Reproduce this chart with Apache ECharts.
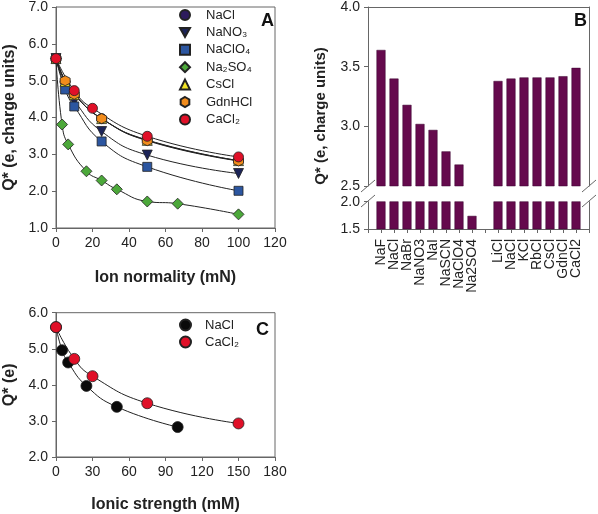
<!DOCTYPE html>
<html><head><meta charset="utf-8">
<script src="https://cdn.jsdelivr.net/npm/echarts@6/dist/echarts.min.js"></script>
<style>html,body{margin:0;padding:0;background:#fff}#c{width:598px;height:514px}</style>
</head><body><div id="c"></div>
<script>
// ---- Panel A: Q* vs ion normality ----
const nacl_x = [0, 5, 10, 25, 50, 100];
const nacl_y = [5.6, 4.97, 4.62, 3.97, 3.39, 2.83];
const nano3_x = [0, 5, 10, 25, 50, 100];
const nano3_y = [5.6, 4.85, 4.45, 3.62, 2.98, 2.48];
const naclo4_x = [0, 5, 10, 25, 50, 100];
const naclo4_y = [5.6, 4.76, 4.30, 3.35, 2.66, 2.01];
const na2so4_x = [0, 3.33, 6.67, 16.67, 25, 33.33, 50, 66.67, 100];
const na2so4_y = [5.6, 3.81, 3.27, 2.54, 2.29, 2.05, 1.72, 1.66, 1.37];
const cscl_x = [0, 5, 10, 25, 50, 100];
const cscl_y = [5.6, 4.98, 4.62, 3.97, 3.38, 2.83];
const gdnhcl_x = [0, 5, 10, 25, 50, 100];
const gdnhcl_y = [5.6, 5.0, 4.63, 3.97, 3.37, 2.82];
const cacl2_x = [0, 10, 20, 50, 100];
const cacl2_y = [5.6, 4.73, 4.25, 3.49, 2.93];

// ---- Panel B: Q* by salt ----
const saltLabels = ['', 'NaF', 'NaCl', 'NaBr', 'NaNO3', 'NaI', 'NaSCN', 'NaClO4', 'Na2SO4', '',
                    'LiCl', 'NaCl', 'KCl', 'RbCl', 'CsCl', 'GdnCl', 'CaCl2', ''];
const saltQ = ['-', 3.64, 3.40, 3.18, 3.02, 2.97, 2.79, 2.68, 1.74, '-',
               3.38, 3.40, 3.41, 3.41, 3.41, 3.42, 3.49, '-'];

// ---- Panel C: Q* vs ionic strength ----
const c_nacl_x = [0, 5, 10, 25, 50, 100];
const c_nacl_y = [5.6, 4.96, 4.62, 3.97, 3.39, 2.83];
const c_cacl2_x = [0, 15, 30, 75, 150];
const c_cacl2_y = [5.6, 4.72, 4.24, 3.49, 2.93];

const FONT = 'Liberation Sans, Arial, sans-serif';
const AX = '#666';
const TXT = '#222';
const zip = (xs, ys) => xs.map((x, i) => [x, ys[i]]);
const HEX = 'path://M50,0 L93.3,25 L93.3,75 L50,100 L6.7,75 L6.7,25 Z';
const TRI_DOWN = 'path://M0,0 L100,0 L50,90 Z';
const SUB = '₀₁₂₃₄₅₆₇₈₉';

function lineSeries(name, xs, ys, symbol, color, xi, yi, size) {
  return {
    name, type: 'line', xAxisIndex: xi, yAxisIndex: yi, data: zip(xs, ys),
    smooth: 0.5,
    symbol, symbolSize: size || 10,
    lineStyle: { color: '#222', width: 1 },
    itemStyle: { color, borderColor: '#222', borderWidth: 0.8 },
    emphasis: { disabled: true }, animation: false, z: 3
  };
}
const subFmt = n => n.trim().replace(/([A-Za-z])(\d)/g, (m, a, d) => a + SUB[+d]);
const legendText = (pad) => ({ fontSize: 13, fontFamily: FONT, color: TXT, padding: [0, 0, 0, pad], lineHeight: 14 });

const valAxisCommon = (extra) => Object.assign({
  type: 'value',
  axisLine: { show: true, lineStyle: { color: AX, width: 1 } },
  axisTick: { show: true, inside: false, length: 4, lineStyle: { color: AX } },
  splitLine: { show: false },
  axisLabel: { fontSize: 14, fontFamily: FONT, color: TXT },
}, extra);
const nameStyle = { fontSize: 16, fontWeight: 'bold', fontFamily: FONT, color: TXT };
const fmt1 = { fontSize: 14, fontFamily: FONT, color: TXT, formatter: v => v.toFixed(1) };

const chart = echarts.init(document.getElementById('c'), null, { renderer: 'canvas' });
chart.setOption({
  animation: false,
  grid: [
    { left: 56, top: 6, width: 219, height: 222, show: true, borderColor: AX, borderWidth: 1 },  // A
    { left: 56, top: 312.7, width: 219, height: 147.3, show: true, borderColor: AX, borderWidth: 1 }, // C
    { left: 368, top: 6, width: 221, height: 180 }, // B upper
    { left: 368, top: 201.7, width: 221, height: 27.3 } // B lower
  ],
  xAxis: [
    valAxisCommon({ gridIndex: 0, min: 0, max: 120, interval: 20,
      name: 'Ion normality (mN)', nameLocation: 'middle', nameGap: 42, nameTextStyle: nameStyle }),
    valAxisCommon({ gridIndex: 1, min: 0, max: 180, interval: 30,
      name: 'Ionic strength (mM)', nameLocation: 'middle', nameGap: 40, nameTextStyle: nameStyle }),
    { type: 'category', gridIndex: 2, position: 'top', data: saltLabels, boundaryGap: false,
      axisLine: { show: true, lineStyle: { color: AX } }, axisTick: { show: false }, axisLabel: { show: false } },
    { type: 'category', gridIndex: 3, position: 'bottom', data: saltLabels, boundaryGap: false,
      axisLine: { show: true, lineStyle: { color: AX } },
      axisTick: { show: true, length: 4, interval: 0, lineStyle: { color: AX } },
      axisLabel: { show: true, interval: 0, rotate: 90, margin: 10, fontSize: 14, fontFamily: FONT, color: TXT } }
  ],
  yAxis: [
    valAxisCommon({ gridIndex: 0, min: 1, max: 7, interval: 1, axisLabel: fmt1,
      name: 'Q* (e, charge units)', nameLocation: 'middle', nameGap: 38, nameTextStyle: nameStyle }),
    valAxisCommon({ gridIndex: 1, min: 2, max: 6, interval: 1, axisLabel: fmt1,
      name: 'Q* (e)', nameLocation: 'middle', nameGap: 38, nameTextStyle: nameStyle }),
    valAxisCommon({ gridIndex: 2, min: 2.5, max: 4.0, interval: 0.5, axisLabel: fmt1 }),
    valAxisCommon({ gridIndex: 3, min: 1.5, max: 2.0, interval: 0.5, axisLabel: fmt1 }),
    { type: 'value', gridIndex: 2, position: 'right', min: 2.5, max: 4.0,
      axisLine: { show: true, lineStyle: { color: AX } }, axisTick: { show: false },
      axisLabel: { show: false }, splitLine: { show: false } },
    { type: 'value', gridIndex: 3, position: 'right', min: 1.5, max: 2.0,
      axisLine: { show: true, lineStyle: { color: AX } }, axisTick: { show: false },
      axisLabel: { show: false }, splitLine: { show: false } }
  ],
  legend: [
    { orient: 'vertical', left: 174, top: 3, itemWidth: 10, itemHeight: 10, itemGap: 3.4,
      selectedMode: false, formatter: subFmt, textStyle: legendText(11),
      data: [
        { name: 'NaCl', icon: 'circle' }, { name: 'NaNO3', icon: TRI_DOWN },
        { name: 'NaClO4', icon: 'rect' }, { name: 'Na2SO4', icon: 'diamond' },
        { name: 'CsCl', icon: 'triangle' }, { name: 'GdnHCl', icon: HEX },
        { name: 'CaCl2', icon: 'circle' }
      ] },
    { orient: 'vertical', left: 174, top: 313, itemWidth: 11, itemHeight: 11, itemGap: 3,
      selectedMode: false, formatter: subFmt, textStyle: legendText(9),
      data: [ { name: 'NaCl ', icon: 'circle' }, { name: 'CaCl2 ', icon: 'circle' } ] }
  ],
  series: [
    lineSeries('NaCl', nacl_x, nacl_y, 'circle', '#2d1b5c', 0, 0),
    lineSeries('NaNO3', nano3_x, nano3_y, TRI_DOWN, '#1c2458', 0, 0),
    lineSeries('NaClO4', naclo4_x, naclo4_y, 'rect', '#2c56a0', 0, 0, 9),
    lineSeries('Na2SO4', na2so4_x, na2so4_y, 'diamond', '#4ca83a', 0, 0, 11),
    lineSeries('CsCl', cscl_x, cscl_y, 'triangle', '#f2e424', 0, 0),
    lineSeries('GdnHCl', gdnhcl_x, gdnhcl_y, HEX, '#f28c1c', 0, 0),
    lineSeries('CaCl2', cacl2_x, cacl2_y, 'circle', '#e01028', 0, 0),
    lineSeries('NaCl ', c_nacl_x, c_nacl_y, 'circle', '#0a0a0a', 1, 1, 11),
    lineSeries('CaCl2 ', c_cacl2_x, c_cacl2_y, 'circle', '#e01028', 1, 1, 11),
    { type: 'bar', xAxisIndex: 2, yAxisIndex: 2, data: saltQ, barWidth: 9, clip: true,
      itemStyle: { color: '#650a4d', borderColor: '#3a0630', borderWidth: 0.5 }, animation: false },
    { type: 'bar', xAxisIndex: 3, yAxisIndex: 3, data: saltQ, barWidth: 9, clip: true,
      itemStyle: { color: '#650a4d', borderColor: '#3a0630', borderWidth: 0.5 }, animation: false }
  ],
  graphic: [
    { type: 'text', left: 261, top: 12, style: { text: 'A', font: 'bold 18px ' + FONT, fill: '#111' } },
    { type: 'text', left: 574, top: 12, style: { text: 'B', font: 'bold 18px ' + FONT, fill: '#111' } },
    { type: 'text', left: 256, top: 321, style: { text: 'C', font: 'bold 18px ' + FONT, fill: '#111' } },
    { type: 'text', x: 321, y: 116, rotation: Math.PI / 2,
      style: { text: 'Q* (e, charge units)', font: 'bold 15px ' + FONT, fill: TXT, align: 'center', verticalAlign: 'middle' } },
    { type: 'line', shape: { x1: 361, y1: 192, x2: 375, y2: 180 }, style: { stroke: AX, lineWidth: 1 } },
    { type: 'line', shape: { x1: 361, y1: 207, x2: 375, y2: 195 }, style: { stroke: AX, lineWidth: 1 } },
    { type: 'line', shape: { x1: 582, y1: 192, x2: 596, y2: 180 }, style: { stroke: AX, lineWidth: 1 } },
    { type: 'line', shape: { x1: 582, y1: 207, x2: 596, y2: 195 }, style: { stroke: AX, lineWidth: 1 } }
  ]
});
</script></body></html>
